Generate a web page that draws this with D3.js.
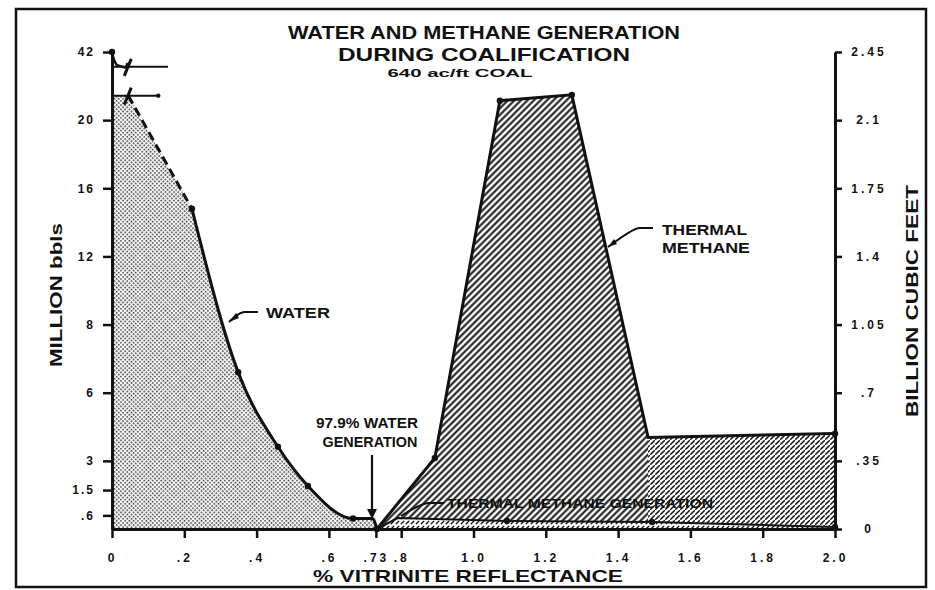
<!DOCTYPE html>
<html>
<head>
<meta charset="utf-8">
<script src="https://cdn.jsdelivr.net/npm/d3@7"></script>
<style>
body { margin: 0; background: #fff; }
text { font-family: "Liberation Sans", Arial, sans-serif; font-weight: bold; fill: #111; }
</style>
</head>
<body>
<div id="chart"></div>
<script>
// water released (million bbls) vs % vitrinite reflectance
var waterRo   = [0, 0.045, 0.221, 0.349, 0.459, 0.542, 0.667, 0.72, 0.733];
var waterMbbl = [27.9, 27.9, 14.8, 6.6, 3.62, 1.71, 0.46, 0.46, 0];
// short piece above the axis break
var waterTopRo   = [0, 0.012, 0.03];
var waterTopMbbl = [42, 38, 37.2];

// thermal methane, billion cubic feet
var methaneRo  = [0.733, 0.893, 1.073, 1.272, 1.483, 2.0];
var methaneBcf = [0, 0.365, 2.20, 2.23, 0.47, 0.49];
// thermal methane generation (lower band)
var genRo  = [0.733, 0.79, 1.093, 1.494, 2.0];
var genBcf = [0, 0.056, 0.041, 0.036, 0.01];

var xTicks      = [0, .2, .4, .6, .73, .8, 1.0, 1.2, 1.4, 1.6, 1.8, 2.0];
var xTickLabels = ["0", ".2", ".4", ".6", ".73", ".8", "1.0", "1.2", "1.4", "1.6", "1.8", "2.0"];
var bcfTicks      = [0, .35, .7, 1.05, 1.4, 1.75, 2.1, 2.45];
var bcfTickLabels = ["0", ".35", ".7", "1.05", "1.4", "1.75", "2.1", "2.45"];
// left axis is not linear, every water tick sits on a gas level
var mbblTicks      = [0, .6, 1.5, 3, 6, 8, 12, 16, 20, 42];
var mbblTickLabels = ["", ".6", "1.5", "3", "6", "8", "12", "16", "20", "42"];
var mbblAsBcf      = [0, .07, .2, .35, .7, 1.05, 1.4, 1.75, 2.1, 2.45];

var width = 935, height = 590;
var svg = d3.select("#chart").append("svg").attr("width", width).attr("height", height);

var x  = d3.scaleLinear().domain([0, 2]).range([112, 835]);
var yR = d3.scaleLinear().domain([0, 2.45]).range([529, 52]);
var yL = d3.scaleLinear().domain(mbblTicks).range(mbblAsBcf.map(yR));

// fill patterns
var defs = svg.append("defs");
var hp = defs.append("pattern").attr("id", "hatch")
    .attr("patternUnits", "userSpaceOnUse")
    .attr("width", 4.6).attr("height", 10)
    .attr("patternTransform", "rotate(45)");
hp.append("line").attr("x1", 2.3).attr("x2", 2.3).attr("y1", 0).attr("y2", 10)
    .attr("stroke", "#111").attr("stroke-width", 2);

function dashPattern(id, s, seg, w) {
    defs.append("pattern").attr("id", id)
        .attr("patternUnits", "userSpaceOnUse")
        .attr("width", s).attr("height", s)
      .append("path")
        .attr("d", "M" + (s - seg) / 2 + "," + (s + seg) / 2 + "L" + (s + seg) / 2 + "," + (s - seg) / 2)
        .attr("stroke", "#111").attr("stroke-width", w).attr("stroke-linecap", "round");
}
dashPattern("hatchLight", 5, 3.6, 1.5);
dashPattern("hatchGen", 5, 2.6, 1.3);

var st = defs.append("pattern").attr("id", "stipple")
    .attr("patternUnits", "userSpaceOnUse")
    .attr("width", 3).attr("height", 3)
    .attr("patternTransform", "rotate(45)");
st.append("rect").attr("width", 1.6).attr("height", 1.6).attr("fill", "#333");

// outer frame
svg.append("rect")
    .attr("x", 16).attr("y", 9).attr("width", 910).attr("height", 578)
    .attr("fill", "none").attr("stroke", "#111").attr("stroke-width", 2.5);

// water area
var wp = waterRo.map(function(r, i) { return [x(r), yL(waterMbbl[i])]; });
var dashPart = d3.line()(wp.slice(0, 3));
var solidPart = d3.line().curve(d3.curveMonotoneX)(wp.slice(2));
var waterFill = dashPart + "L" + solidPart.slice(1) + "L" + x(0) + "," + yL(0) + "Z";
svg.append("path").attr("d", waterFill).attr("fill", "url(#stipple)");

// methane area
var mp = methaneRo.map(function(r, i) { return [x(r), yR(methaneBcf[i])]; });
var area = d3.area().x(function(d) { return d[0]; }).y0(yR(0)).y1(function(d) { return d[1]; });
svg.append("path").attr("d", area(mp)).attr("fill", "url(#hatch)");
// plateau, lighter hatch
svg.append("path").attr("d", area(mp.slice(4))).attr("fill", "#fff");
svg.append("path").attr("d", area(mp.slice(4))).attr("fill", "url(#hatchLight)");

// generation band
var gp = genRo.map(function(r, i) { return [x(r), yR(genBcf[i])]; });
svg.append("path").attr("d", area(gp)).attr("fill", "#fff");
svg.append("path").attr("d", area(gp)).attr("fill", "url(#hatchGen)");

// curves
svg.append("path").attr("d", d3.line()(wp.slice(1, 3)))
    .attr("fill", "none").attr("stroke", "#111").attr("stroke-width", 3)
    .attr("stroke-dasharray", "9 5");
svg.append("path").attr("d", solidPart)
    .attr("fill", "none").attr("stroke", "#111").attr("stroke-width", 3);
svg.append("path").attr("d", d3.line()(mp))
    .attr("fill", "none").attr("stroke", "#111").attr("stroke-width", 3);
svg.append("path").attr("d", d3.line()(gp))
    .attr("fill", "none").attr("stroke", "#111").attr("stroke-width", 2);

// top of water curve, above the break
var tp = waterTopRo.map(function(r, i) { return [x(r), yL(waterTopMbbl[i])]; });
svg.append("path").attr("d", d3.line().curve(d3.curveMonotoneY)(tp))
    .attr("fill", "none").attr("stroke", "#111").attr("stroke-width", 2.5);

// axis break marks
var brk = svg.append("g").attr("stroke", "#111").attr("fill", "none");
brk.append("line").attr("x1", x(0)).attr("x2", x(0.155))
    .attr("y1", yL(37.2)).attr("y2", yL(37.2)).attr("stroke-width", 2);
brk.append("line").attr("x1", x(0)).attr("x2", x(0.128))
    .attr("y1", yL(27.9)).attr("y2", yL(27.9)).attr("stroke-width", 2);
[37.2, 27.9].forEach(function(v) {
    var bx = x(0.045), by = yL(v);
    brk.append("path")
        .attr("d", "M" + (bx - 4) + "," + (by + 9) + "L" + (bx + 3) + "," + (by - 8))
        .attr("stroke-width", 3);
});
brk.append("path")
    .attr("d", "M" + x(0.03) + "," + yL(37.2) + "Q" + (x(0.03) + 4) + "," + (yL(37.2) + 2) + " " + (x(0.045) - 1) + "," + (yL(37.2) - 4))
    .attr("stroke-width", 2.5);
svg.append("circle").attr("cx", x(0.128)).attr("cy", yL(27.9)).attr("r", 2.2).attr("fill", "#111");

// dots
var dots = [[x(0), yL(42)]].concat(wp.slice(2, 7), mp.slice(1, 4), [mp[5]], gp.slice(2), [gp[0]]);
svg.selectAll(".dot").data(dots).enter().append("circle")
    .attr("class", "dot")
    .attr("cx", function(d) { return d[0]; })
    .attr("cy", function(d) { return d[1]; })
    .attr("r", 3.2).attr("fill", "#111");

// axes
function styleAxis(g, fs, ls) {
    g.selectAll("path, line").attr("stroke", "#111").attr("stroke-width", 2.5);
    g.select(".domain").attr("stroke-width", 3);
    g.selectAll("text")
        .attr("fill", "#111")
        .style("font-family", "'Liberation Sans', Arial, sans-serif")
        .style("font-weight", "bold")
        .style("font-size", fs + "px")
        .style("letter-spacing", ls + "px");
}

var gx = svg.append("g").attr("transform", "translate(0," + yR(0) + ")")
    .call(d3.axisBottom(x).tickValues(xTicks)
        .tickFormat(function(d, i) { return xTickLabels[i]; })
        .tickSize(9).tickSizeOuter(0).tickPadding(15));
styleAxis(gx, 12, 3);

var gl = svg.append("g").attr("transform", "translate(" + x(0) + ",0)")
    .call(d3.axisLeft(yL).tickValues(mbblTicks.slice(1))
        .tickFormat(function(d, i) { return mbblTickLabels[i + 1]; })
        .tickSize(9).tickSizeOuter(0).tickPadding(8));
styleAxis(gl, 12, 2);

var gr = svg.append("g").attr("transform", "translate(" + x(2) + ",0)")
    .call(d3.axisRight(yR).tickValues(bcfTicks)
        .tickFormat(function(d, i) { return bcfTickLabels[i]; })
        .tickSize(7).tickSizeOuter(0));
styleAxis(gr, 12, 3);
gr.selectAll("text").attr("x", 34).attr("text-anchor", "middle");

// titles
function label(txt, px, py, fs, len, anchor, rot) {
    var t = svg.append("text").text(txt)
        .attr("font-size", fs)
        .attr("text-anchor", anchor || "middle");
    if (len) t.attr("textLength", len).attr("lengthAdjust", "spacingAndGlyphs");
    if (rot) t.attr("transform", "translate(" + px + "," + py + ") rotate(" + rot + ")");
    else t.attr("x", px).attr("y", py);
    return t;
}
label("WATER AND METHANE GENERATION", 484, 39, 19, 392);
label("DURING COALIFICATION", 484, 61, 19, 292);
label("640 ac/ft COAL", 460, 77, 11, 145);
label("% VITRINITE REFLECTANCE", 313, 582, 17, 310, "start");
label("MILLION bbls", 62, 295, 17, 144, "middle", -90);
label("BILLION CUBIC FEET", 918, 301, 16, 232, "middle", -90);

// annotations
label("WATER", 266, 318, 14, 64, "start");
label("THERMAL", 662, 235, 14, 85, "start");
label("METHANE", 662, 253, 14, 88, "start");
label("97.9% WATER", 367, 428, 14, 102);
label("GENERATION", 370, 447, 14, 95);
label("THERMAL METHANE GENERATION", 447, 508, 12, 266, "start");

var lead = svg.append("g").attr("fill", "none").attr("stroke", "#111").attr("stroke-width", 2);
lead.append("path").attr("d", "M258,312L244,312Q238,313 229,322");
lead.append("path").attr("d", "M653,228L639,228Q632,229 608,247");
lead.append("path").attr("d", "M444,503L428,503Q418,505 401,516");
lead.append("path").attr("d", "M372,455L372,512").attr("stroke-width", 2.2);
svg.append("path").attr("d", "M367,509L377,509L372,519Z").attr("fill", "#111");
svg.append("path").attr("d", "M229,322L236,313L239,318Z").attr("fill", "#111");
svg.append("path").attr("d", "M608,247L614,239L617,244Z").attr("fill", "#111");
</script>
</body>
</html>
